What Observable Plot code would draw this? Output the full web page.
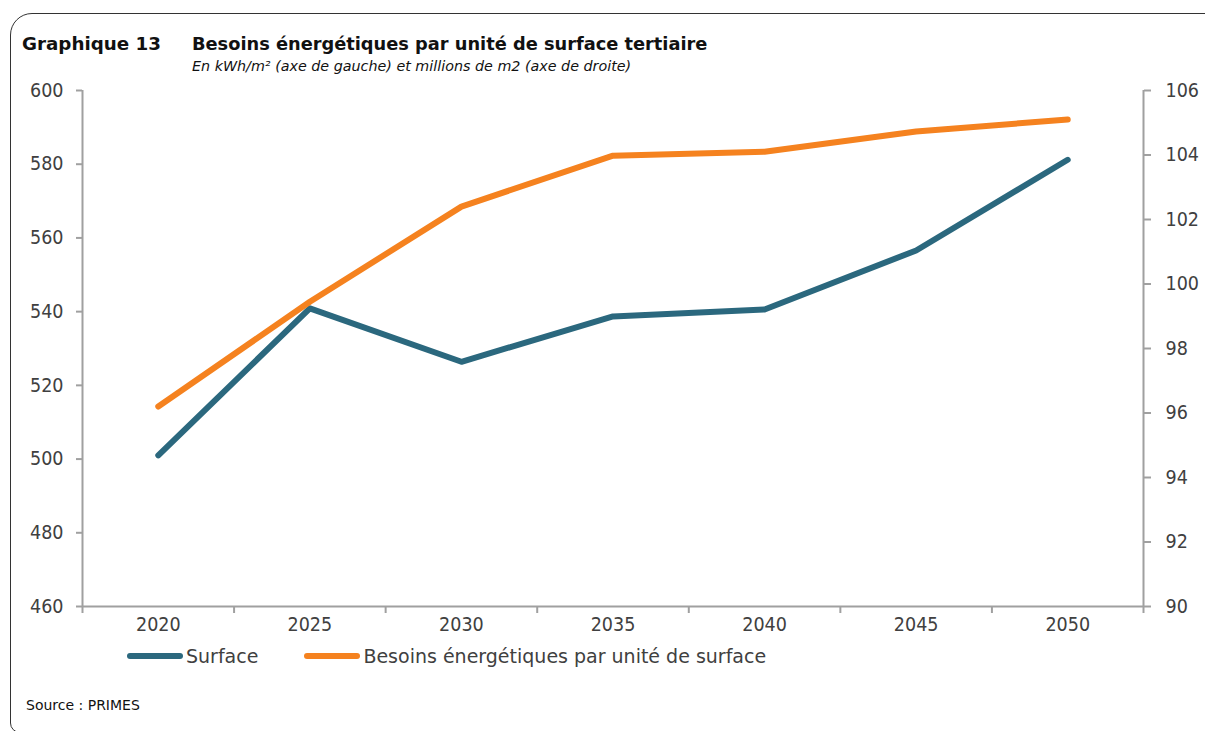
<!DOCTYPE html>
<html>
<head>
<meta charset="utf-8">
<script src="https://cdn.jsdelivr.net/npm/d3@7"></script>
<script src="https://cdn.jsdelivr.net/npm/@observablehq/plot@0.6"></script>
<style>
  html, body { margin: 0; padding: 0; background: #fff; }
  body { width: 1205px; height: 731px; position: relative; overflow: hidden; font-family: "DejaVu Sans", sans-serif; color: #404040; }
  #frame { position: absolute; left: 10px; top: 13px; width: 1300px; height: 720px; border: 1.5px solid #333; border-radius: 22px 0 0 10px; box-sizing: border-box; }
  .t { position: absolute; white-space: nowrap; }
  #num { left: 22px; top: 33px; font-weight: bold; font-size: 18.3px; color: #111; }
  #title { left: 192px; top: 33px; font-weight: bold; font-size: 17.8px; color: #111; }
  #sub { left: 192px; top: 58px; font-style: italic; font-size: 14.3px; color: #111; }
  #chart { position: absolute; left: 0; top: 0; }
  #legend { position: absolute; left: 127px; top: 645px; font-size: 19px; color: #404040; display: flex; align-items: center; }
  .sw { display: inline-block; width: 56px; height: 6px; border-radius: 3px; margin-right: 3px; }
  .item { display: flex; align-items: center; }
  #source { left: 26px; top: 697px; font-size: 14px; color: #111; }
</style>
</head>
<body>
<div id="frame"></div>
<div class="t" id="num">Graphique 13</div>
<div class="t" id="title">Besoins énergétiques par unité de surface tertiaire</div>
<div class="t" id="sub">En kWh/m² (axe de gauche) et millions de m2 (axe de droite)</div>
<div id="chart"></div>
<div id="legend"></div>
<div class="t" id="source">Source : PRIMES</div>
<script>
const years = [2020, 2025, 2030, 2035, 2040, 2045, 2050];
const surface = [501, 540.9, 526.4, 538.7, 540.6, 556.6, 581.2];           // left axis
const besoins = [96.2, 99.45, 102.4, 103.98, 104.1, 104.73, 105.1];        // right axis
const leftTicks = [460, 480, 500, 520, 540, 560, 580, 600];
const rightTicks = [90, 92, 94, 96, 98, 100, 102, 104, 106];
const seriesNames = ["Surface", "Besoins énergétiques par unité de surface"];
const colors = ["#2b687e", "#f5821f"];

const yL = [460, 600], yR = [90, 106];
const toLeft = v => yL[0] + (v - yR[0]) * (yL[1] - yL[0]) / (yR[1] - yR[0]);
const fromLeft = v => yR[0] + (v - yL[0]) * (yR[1] - yR[0]) / (yL[1] - yL[0]);
const bounds = years.map(y => y - 2.5).concat([years[years.length - 1] + 2.5]);

const data = [];
years.forEach((y, i) => {
  data.push({year: y, v: surface[i], s: seriesNames[0]});
  data.push({year: y, v: toLeft(besoins[i]), s: seriesNames[1]});
});

const font = '"DejaVu Sans Condensed", "DejaVu Sans", sans-serif';
const axisColor = "#a0a0a0";
const plot = Plot.plot({
  width: 1205,
  height: 650,
  marginLeft: 82,
  marginRight: 62,
  marginTop: 90,
  marginBottom: 44,
  style: {fontFamily: font, fontSize: "19.5px", color: "#404040", background: "transparent"},
  x: {domain: [bounds[0], bounds[bounds.length - 1]], axis: null},
  y: {domain: yL, axis: null},
  color: {domain: seriesNames, range: colors},
  marks: [
    Plot.ruleY([yL[0]], {stroke: axisColor, strokeWidth: 2}),
    Plot.ruleX([bounds[0], bounds[bounds.length - 1]], {stroke: axisColor, strokeWidth: 2}),
    Plot.axisX({ticks: bounds, tickSize: 7, tickFormat: () => "", stroke: axisColor, strokeWidth: 2, label: null}),
    Plot.axisX({ticks: years, tickSize: 0, tickPadding: 11, tickFormat: d => String(d), fill: "#404040", label: null}),
    Plot.axisY({anchor: "left", ticks: leftTicks, tickSize: 6, tickPadding: 13, stroke: axisColor, strokeWidth: 2, fill: "#404040", tickFormat: d => String(d), label: null}),
    Plot.axisY({anchor: "right", ticks: rightTicks.map(toLeft), tickSize: 7, tickPadding: 15, stroke: axisColor, strokeWidth: 2, fill: "#404040", tickFormat: d => String(Math.round(fromLeft(d))), label: null}),
    Plot.line(data, {x: "year", y: "v", z: "s", stroke: "s", strokeWidth: 6, strokeLinecap: "round", strokeLinejoin: "round"})
  ]
});
document.getElementById("chart").appendChild(plot);

const legend = document.getElementById("legend");
seriesNames.forEach((n, i) => {
  const it = document.createElement("div");
  it.className = "item";
  if (i > 0) it.style.marginLeft = "46px";
  const sw = document.createElement("span");
  sw.className = "sw";
  sw.style.background = colors[i];
  const tx = document.createElement("span");
  tx.textContent = n;
  it.appendChild(sw); it.appendChild(tx);
  legend.appendChild(it);
});
</script>
</body>
</html>
